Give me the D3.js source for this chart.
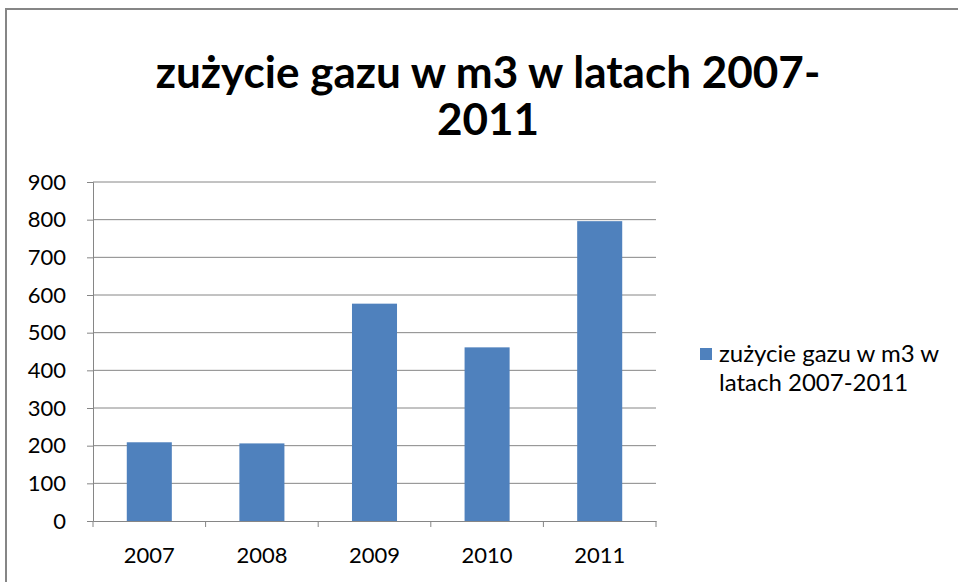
<!DOCTYPE html>
<html><head><meta charset="utf-8">
<script src="https://cdn.jsdelivr.net/npm/d3@7"></script>
<style>body{margin:0;background:#fff}svg{display:block}</style>
</head><body>
<script>
const categories = ["2007","2008","2009","2010","2011"];
const values = [209, 206, 577, 461, 796];
const yTicks = [0,100,200,300,400,500,600,700,800,900];
const seriesName = "zużycie gazu w m3 w latach 2007-2011";
const titleLines = ["zużycie gazu w m3 w latach 2007-", "2011"];
const legendLines = ["zużycie gazu w m3 w", "latach 2007-2011"];

const W = 958, H = 582;
const svg = d3.select("body").append("svg").attr("width", W).attr("height", H);
svg.append("rect").attr("x", 6).attr("y", 9).attr("width", 1000).attr("height", 700)
  .attr("fill", "#fff").attr("stroke", "#868686").attr("stroke-width", 2);

const font = "Lato, Open Sans, sans-serif";
const xb = d3.scaleBand().domain(categories).range([93, 656]);
const y = d3.scaleLinear().domain([0, 900]).range([521, 182]);

// gridlines
svg.append("g").selectAll("line").data(yTicks.filter(d => d > 0)).join("line")
  .attr("x1", 93).attr("x2", 656).attr("y1", d => y(d)).attr("y2", d => y(d))
  .attr("stroke", "#868686").attr("stroke-width", 1);

// bars
svg.append("g").selectAll("rect").data(values).join("rect")
  .attr("x", (d, i) => xb(categories[i]) + xb.bandwidth() * 0.3)
  .attr("width", xb.bandwidth() * 0.4)
  .attr("y", d => y(d)).attr("height", d => y(0) - y(d))
  .attr("fill", "#4F81BD");

// y axis
const yAxis = svg.append("g").attr("transform", "translate(93,0)")
  .call(d3.axisLeft(y).tickValues(yTicks).tickSize(6).tickPadding(21));
yAxis.select(".domain").attr("stroke", "#868686");
yAxis.selectAll(".tick line").attr("stroke", "#868686");
yAxis.selectAll("text").attr("font-family", font).attr("font-size", 22).attr("fill", "#000");

// x axis
const xAxis = svg.append("g").attr("transform", "translate(0,521)")
  .call(d3.axisBottom(xb).tickSize(0).tickPadding(26));
xAxis.select(".domain").attr("stroke", "#868686");
xAxis.selectAll("text").attr("font-family", font).attr("font-size", 22).attr("fill", "#000");
svg.append("g").selectAll("line").data(d3.range(categories.length + 1)).join("line")
  .attr("x1", i => 93 + i * xb.step()).attr("x2", i => 93 + i * xb.step())
  .attr("y1", 521).attr("y2", 527).attr("stroke", "#868686");

// title
const t = svg.append("g").selectAll("text").data(titleLines).join("text")
  .attr("x", 488).attr("y", (d, i) => 88 + i * 47)
  .attr("text-anchor", "middle").attr("font-family", font).attr("font-weight", "bold")
  .attr("font-size", 44).attr("fill", "#000").text(d => d);
const tw = t.nodes()[0].getComputedTextLength();
t.attr("font-size", 44 * 665 / tw);

// legend
svg.append("rect").attr("x", 700).attr("y", 348).attr("width", 12).attr("height", 12).attr("fill", "#4F81BD");
const lg = svg.append("g").selectAll("text").data(legendLines).join("text")
  .attr("x", 719).attr("y", (d, i) => 362 + i * 29)
  .attr("font-family", font).attr("font-size", 22).attr("fill", "#000").text(d => d);
const lw = lg.nodes()[0].getComputedTextLength();
lg.attr("font-size", Math.min(24, 22 * 228 / lw));
</script>
</body></html>
